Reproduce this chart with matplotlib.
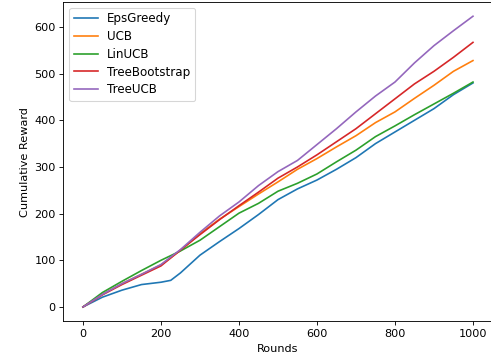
import numpy as np
import matplotlib
matplotlib.use("Agg")
from matplotlib import pyplot as plt

# values
rounds = [0, 50, 100, 150, 200, 250, 300, 350, 400, 450, 500,
          550, 600, 650, 700, 750, 800, 850, 900, 950, 1000]

eps_rounds = [0, 50, 100, 150, 200, 225, 250, 300, 350, 400, 450, 500,
              550, 600, 650, 700, 750, 800, 850, 900, 950, 1000]
eps_greedy = [0, 21, 36, 48, 53, 57, 73, 111, 140, 168, 198, 230,
              253, 272, 295, 320, 350, 375, 400, 425, 455, 480]

ucb = [0, 27, 50, 70, 90, 121, 157, 188, 215, 242, 268,
       295, 318, 343, 367, 395, 418, 447, 475, 505, 528]
lin_ucb = [0, 31, 55, 78, 100, 120, 143, 172, 201, 222, 248,
           265, 285, 311, 336, 365, 388, 412, 435, 458, 482]
tree_bootstrap = [0, 26, 48, 68, 88, 122, 155, 187, 217, 246, 276,
                  300, 326, 354, 382, 414, 446, 478, 505, 535, 567]
tree_ucb = [0, 27, 50, 70, 91, 123, 160, 195, 225, 260, 290,
            314, 348, 382, 418, 452, 482, 523, 560, 592, 623]

plt.rcParams['font.size'] = 10.3

fig = plt.figure(figsize=(491 / 79, 362 / 79), dpi=79)
ax = fig.add_axes([0.1293, 0.1119, 0.8737, 0.8834])

ax.plot(eps_rounds, eps_greedy, label='EpsGreedy')
ax.plot(rounds, ucb, label='UCB')
ax.plot(rounds, lin_ucb, label='LinUCB')
ax.plot(rounds, tree_bootstrap, label='TreeBootstrap')
ax.plot(rounds, tree_ucb, label='TreeUCB')

ax.set_xlabel('Rounds')
ax.set_ylabel('Cumulative Reward')
ax.legend(loc='upper left', fontsize=10.8, labelspacing=0.4)

fig.savefig('out.png', dpi=79)
